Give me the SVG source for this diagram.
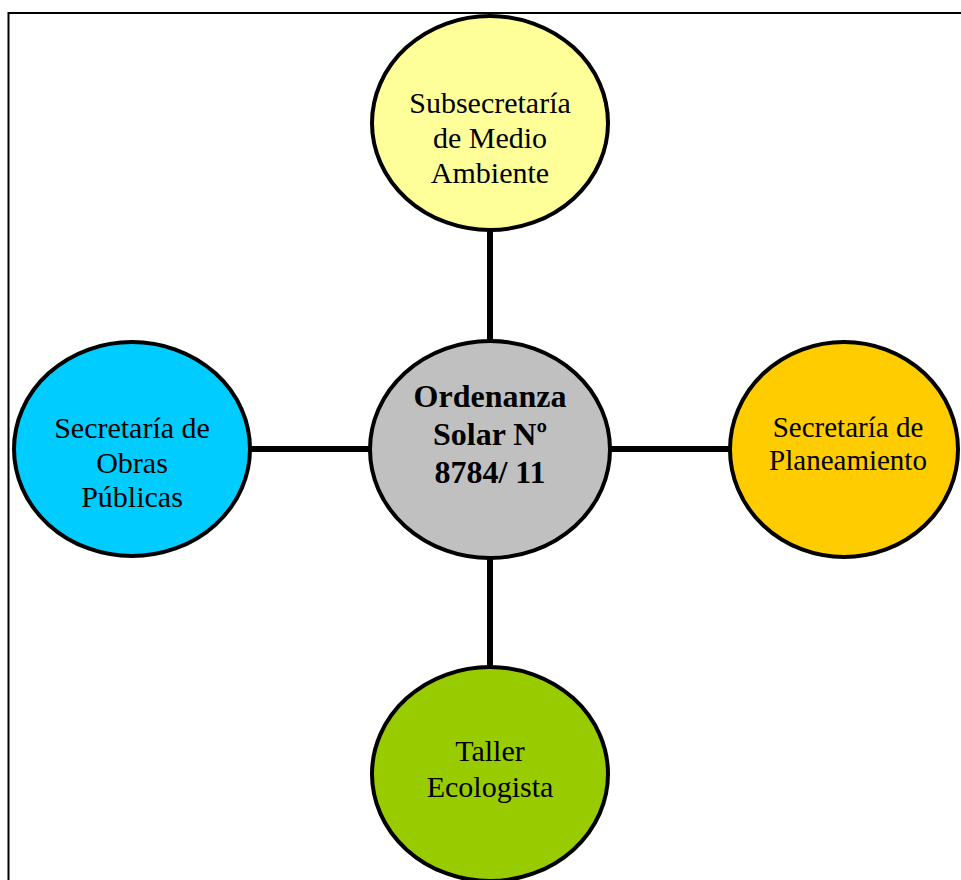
<svg xmlns="http://www.w3.org/2000/svg" width="961" height="880" viewBox="0 0 961 880">
<style>
.node{stroke:#000;stroke-width:4}
.t{font-family:"Liberation Serif","Times New Roman",serif;font-size:30px;fill:#000;text-anchor:middle}
.b{font-weight:bold;font-size:32px}
.c{stroke:#000;stroke-width:6;fill:none}
</style>
<rect width="961" height="880" fill="#fff"/>
<path d="M8.5 880 V13 H961" fill="none" stroke="#000" stroke-width="2"/>
<g id="connectors">
<line class="c" x1="490" y1="230" x2="490" y2="341"/>
<line class="c" x1="490" y1="558" x2="490" y2="667"/>
<line class="c" x1="250" y1="449" x2="370" y2="449"/>
<line class="c" x1="610" y1="449" x2="730" y2="449"/>
</g>
<g id="subsecretaria">
<ellipse class="node" cx="490" cy="123" rx="118" ry="107" fill="#FFFF99"/>
<text class="t" x="490" y="113">Subsecretaría</text>
<text class="t" x="490" y="148">de Medio</text>
<text class="t" x="490" y="183">Ambiente</text>
</g>
<g id="obras">
<ellipse class="node" cx="132" cy="449" rx="118" ry="107" fill="#00CCFF"/>
<text class="t" x="132" y="438">Secretaría de</text>
<text class="t" x="132" y="473">Obras</text>
<text class="t" x="132" y="507">Públicas</text>
</g>
<g id="ordenanza">
<ellipse class="node" cx="490" cy="449.5" rx="120" ry="108.5" fill="#C0C0C0"/>
<text class="t b" x="490" y="407">Ordenanza</text>
<text class="t b" x="490" y="445">Solar Nº</text>
<text class="t b" x="490" y="483">8784/ 11</text>
</g>
<g id="planeamiento">
<ellipse class="node" cx="844" cy="449.5" rx="114" ry="107.5" fill="#FFCC00"/>
<text class="t" x="848" y="437" style="font-size:29px">Secretaría de</text>
<text class="t" x="848" y="470" style="font-size:29px">Planeamiento</text>
</g>
<g id="taller">
<ellipse class="node" cx="490" cy="774" rx="118" ry="107" fill="#99CC00"/>
<text class="t" x="490" y="761">Taller</text>
<text class="t" x="490" y="797">Ecologista</text>
</g>
</svg>
